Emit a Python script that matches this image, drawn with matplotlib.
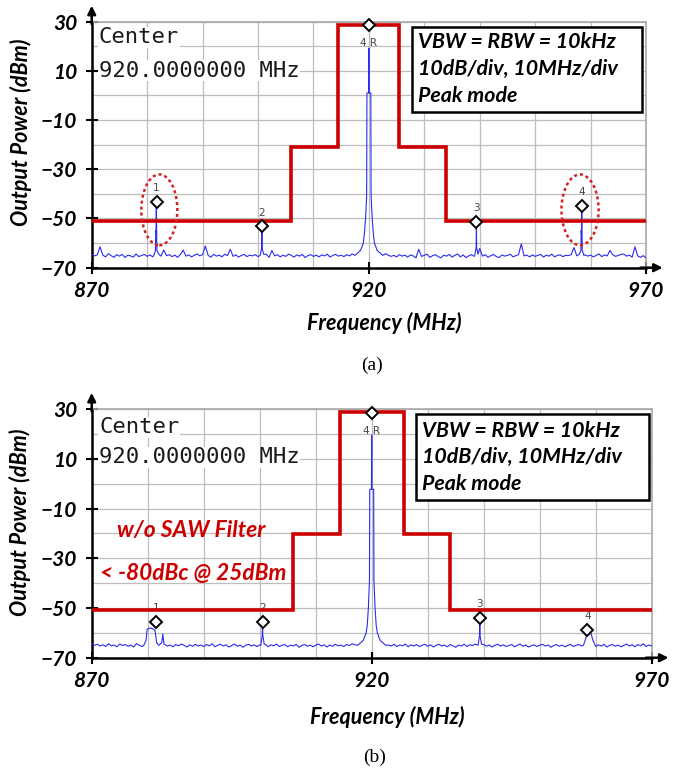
# ====================================================
# Spectrum analyzer screenshots: output spectrum with
# (a) and without (b) the SAW filter, with spectral mask
# ====================================================

import numpy as np
from matplotlib import pyplot as plt
from matplotlib.patches import Ellipse, Rectangle

plt.rcParams["font.family"] = ["Lato", "DejaVu Sans"]

# ====================================================
# Data
# ====================================================

# sweep frequency grid of the noise floor (MHz)
floor_freq = np.arange(870.0, 970.01, 0.5)

# noise floor, panel (a)  (dBm)
floor_a = [
    -64.5, -65.2, -64.8, -61.5, -64.9, -65.6, -64.3, -65.1, -65.8, -64.7,
    -65.3, -64.6, -65.9, -64.9, -65.2, -65.7, -64.4, -65.5, -65.0, -64.6,
    -65.4, -64.8, -65.6, -65.0, -64.5, -65.3, -62.8, -65.1, -64.7, -65.5,
    -64.9, -65.8, -64.6, -62.9, -65.3, -64.8, -65.6, -65.0, -64.4, -65.2,
    -64.7, -61.2, -65.0, -65.7, -64.6, -65.3, -64.9, -65.6, -64.5, -65.1,
    -62.5, -65.4, -64.8, -65.7, -65.0, -64.6, -65.5, -64.9, -65.2, -64.7,
    -65.5, -64.8, -65.3, -64.6, -65.8, -63.0, -65.2, -64.7, -65.6, -64.9,
    -65.4, -64.5, -65.0, -65.7, -64.8, -65.3, -64.6, -65.9, -65.1, -64.7,
    -65.4, -64.9, -65.6, -64.8, -65.2, -64.5, -65.7, -65.0, -64.6, -65.3,
    -64.9, -65.5, -64.7, -65.2, -64.4, -64.8, -64.0, -63.5, -62.5, -61.0,
    -60.0, -61.5, -62.8, -63.6, -64.2, -64.6, -64.3, -64.9, -65.4, -65.0,
    -65.6, -64.7, -65.3, -64.9, -65.7, -64.8, -65.2, -66.0, -62.5, -65.4,
    -65.0, -64.5, -65.8, -65.1, -64.7, -65.5, -66.0, -64.9, -65.3, -64.6,
    -65.7, -65.0, -64.4, -65.6, -64.8, -65.9, -65.2, -64.7, -65.4, -64.9,
    -62.2, -65.3, -64.7, -65.8, -65.1, -64.6, -65.5, -65.9, -64.8, -65.3,
    -65.0, -64.5, -65.6, -65.1, -64.7, -60.3, -65.2, -64.9, -65.6, -64.8,
    -65.4, -65.0, -64.6, -65.7, -64.9, -65.3, -64.5, -65.6, -65.0, -64.8,
    -65.5, -65.0, -65.1, -64.7, -61.8, -65.2, -64.6, -65.4, -64.8, -65.3,
    -64.9, -65.6, -65.0, -64.4, -65.5, -64.8, -65.2, -63.0, -64.7, -65.4,
    -65.0, -64.6, -64.5, -65.3, -64.9, -65.7, -61.5, -65.2, -65.8, -65.1,
    -66.0,
]

# noise floor, panel (b)  (dBm)
floor_b = [
    -64.2, -65.0, -64.6, -65.3, -64.8, -65.5, -64.4, -65.2, -64.9, -65.6,
    -64.5, -65.1, -64.7, -65.4, -64.9, -65.7, -64.3, -65.0, -65.5, -64.8,
    -65.2, -64.6, -65.4, -64.9, -65.8, -65.1, -64.6, -65.3, -64.9, -65.6,
    -64.7, -65.2, -64.5, -65.0, -65.7, -64.8, -65.4, -64.6, -65.3, -64.9,
    -65.5, -64.7, -65.2, -64.4, -65.6, -65.0, -64.6, -65.3, -64.8, -65.7,
    -65.1, -64.5, -65.4, -64.9, -65.8, -65.0, -64.6, -65.3, -64.8, -65.5,
    -64.9, -65.3, -64.6, -65.6, -64.8, -65.2, -64.5, -65.5, -65.0, -64.7,
    -65.6, -64.9, -65.3, -64.6, -65.8, -65.1, -64.7, -65.4, -64.9, -65.6,
    -65.0, -64.5, -65.3, -64.8, -65.7, -64.9, -65.4, -64.6, -65.2, -64.9,
    -65.5, -64.7, -65.1, -64.4, -64.8, -64.2, -63.8, -63.2, -62.4, -61.0,
    -60.0, -61.4, -62.6, -63.4, -64.0, -64.5, -64.9, -65.3, -64.6, -65.5,
    -64.9, -65.2, -64.5, -65.6, -64.8, -65.3, -64.7, -65.5, -65.0, -64.6,
    -65.4, -64.8, -65.7, -65.0, -64.6, -65.3, -64.9, -65.6, -64.7, -65.2,
    -65.8, -64.9, -65.3, -64.6, -65.5, -64.8, -65.1, -64.5, -65.6, -65.0,
    -64.7, -65.4, -64.9, -65.7, -65.0, -64.6, -65.3, -64.8, -65.5, -65.1,
    -64.7, -65.6, -65.0, -64.5, -65.4, -64.9, -65.7, -65.2, -64.8, -65.5,
    -65.0, -64.6, -65.3, -64.9, -65.8, -65.1, -64.7, -65.4, -64.9, -65.6,
    -65.1, -64.6, -65.5, -65.0, -64.7, -65.3, -64.8, -65.6, -65.2, -64.9,
    -65.5, -64.8, -65.3, -64.6, -65.7, -65.0, -64.7, -65.4, -64.9, -65.6,
    -65.1, -64.5, -65.3, -64.8, -65.6, -64.7, -65.2, -64.4, -65.5, -64.9,
    -65.3,
]

# carrier and spurs (frequency MHz, level dBm), panel (a)
carrier_a_f = [917.5, 918.5, 919.0, 919.2, 919.4, 919.6, 919.65, 919.95, 920.0,
               920.05, 920.35, 920.4, 920.6, 920.8, 921.0, 921.5, 922.5]
carrier_a_lv = [-65.0, -63.0, -60.0, -56.0, -50.0, -41.0, 1.0, 1.0, 19.3,
                1.0, 1.0, -41.0, -50.0, -56.0, -60.0, -63.0, -65.0]
spur1_a_f = [881.2, 881.5, 881.55, 881.6, 881.65, 881.7, 881.75, 882.1]
spur1_a_lv = [-65.0, -63.0, -55.0, -56.0, -43.5, -55.0, -63.0, -64.5]
spur2_a_f = [900.4, 900.65, 900.7, 900.75, 901.0]
spur2_a_lv = [-65.0, -62.0, -53.5, -62.0, -64.5]
spur3_a_f = [939.1, 939.35, 939.4, 939.45, 939.7]
spur3_a_lv = [-65.0, -62.0, -52.5, -62.0, -64.5]
spur4_a_f = [958.0, 958.25, 958.3, 958.35, 958.4, 958.45, 958.5, 958.8]
spur4_a_lv = [-64.5, -63.0, -55.0, -56.0, -45.5, -55.0, -63.0, -65.0]

# carrier and spurs, panel (b)
carrier_b_f = [917.5, 918.5, 919.0, 919.2, 919.4, 919.6, 919.65, 919.95, 920.0,
               920.05, 920.35, 920.4, 920.6, 920.8, 921.0, 921.5, 922.5]
carrier_b_lv = [-65.0, -63.0, -60.0, -57.0, -50.0, -39.0, -2.3, -2.3, 19.5,
                -2.3, -2.3, -39.0, -50.0, -57.0, -60.0, -63.0, -65.0]
spur1_b_f = [879.3, 879.7, 879.9, 880.5, 881.0, 881.3, 881.6, 882.0, 882.5, 882.7, 882.9]
spur1_b_lv = [-65.0, -63.0, -58.5, -58.0, -58.5, -59.0, -64.0, -65.0, -64.0, -60.5, -64.5]
spur2_b_f = [900.2, 900.45, 900.5, 900.55, 900.8]
spur2_b_lv = [-65.0, -61.0, -56.0, -61.0, -64.5]
spur3_b_f = [939.0, 939.25, 939.3, 939.35, 939.6]
spur3_b_lv = [-65.0, -61.0, -54.8, -61.0, -64.5]
spur4_b_f = [957.8, 958.2, 958.4, 958.8, 959.2, 959.5, 959.9]
spur4_b_lv = [-65.0, -62.5, -60.5, -60.0, -60.5, -63.0, -65.0]

# spectral mask (step edges in MHz, levels in dBm)
mask_a_edges = [870.0, 906.0, 914.5, 925.5, 934.0, 970.0]
mask_a_levels = [-51.2, -21.0, 28.7, -21.0, -51.2]
mask_b_edges = [870.0, 906.0, 914.4, 925.8, 934.0, 970.0]
mask_b_levels = [-50.8, -20.2, 28.9, -20.2, -50.8]

# markers
marker_names = ["1", "2", "4R", "3", "4"]
marker_a_f = [881.7, 900.7, 920.0, 939.4, 958.4]
marker_a_lv = [-43.2, -53.2, 28.7, -51.4, -44.9]
marker_b_f = [881.5, 900.5, 920.0, 939.3, 958.5]
marker_b_lv = [-55.5, -55.5, 28.3, -53.9, -58.7]

# dotted ellipses in panel (a): centre f, centre level, width MHz, height dB
ellipse_f = [882.2, 958.1]
ellipse_lv = [-46.5, -46.5]
ellipse_w = [6.5, 6.7]
ellipse_h = [28.8, 28.8]

settings_lines = ["VBW = RBW = 10kHz", "10dB/div, 10MHz/div", "Peak mode"]

BLUE = "#2b2bf0"
RED = "#cc0000"


# ====================================================
# Helpers
# ====================================================

def build_trace(floor_lv, features):
    f = np.asarray(floor_freq)
    lv = np.asarray(floor_lv, dtype=float)
    keep = np.ones(f.size, dtype=bool)
    for ff, _ in features:
        keep &= ~((f >= min(ff)) & (f <= max(ff)))
    all_f = np.concatenate([f[keep]] + [np.asarray(ff) for ff, _ in features])
    all_lv = np.concatenate([lv[keep]] + [np.asarray(ll) for _, ll in features])
    order = np.argsort(all_f, kind="stable")
    return all_f[order], all_lv[order]


def draw_panel(ax, trace_f, trace_lv, edges, levels, mk_f, mk_lv,
               center_y, box, lines_y, label_y, xlabel_y):

    ax.set_xlim(870, 970)
    ax.set_ylim(-70, 30)

    # grid every 10 MHz / 10 dB
    ax.set_xticks([870, 920, 970])
    ax.set_xticks(np.arange(870, 971, 10), minor=True)
    ax.set_yticks([-70, -50, -30, -10, 10, 30])
    ax.set_yticks(np.arange(-70, 31, 10), minor=True)
    ax.grid(which="both", color="#bdbdbd", lw=0.9, zorder=0)
    ax.set_axisbelow(True)
    ax.tick_params(which="major", direction="inout", length=9, width=1.5, pad=5)
    ax.tick_params(axis="y", which="major", pad=6)
    ax.tick_params(which="minor", length=0)
    for lbl in ax.get_xticklabels() + ax.get_yticklabels():
        lbl.set_fontweight("bold")
        lbl.set_fontstyle("italic")
        lbl.set_fontsize(15)

    for s in ["left", "bottom"]:
        ax.spines[s].set_linewidth(1.8)
        ax.spines[s].set_color("black")
    for s in ["top", "right"]:
        ax.spines[s].set_linewidth(1.2)
        ax.spines[s].set_color("#a8a8a8")

    # axis arrows
    ax.annotate("", xy=(0, 1.065), xytext=(0, 0.99), xycoords="axes fraction",
                arrowprops=dict(arrowstyle="-|>", color="black", lw=1.8,
                                mutation_scale=12, shrinkA=0, shrinkB=0))
    ax.annotate("", xy=(1.03, 0), xytext=(0.99, 0), xycoords="axes fraction",
                arrowprops=dict(arrowstyle="-|>", color="black", lw=1.8,
                                mutation_scale=12, shrinkA=0, shrinkB=0))

    # measured trace
    ax.plot(trace_f, trace_lv, color=BLUE, lw=0.8, zorder=3)

    # marker labels sit under the mask line
    for name, f, lv in zip(marker_names, mk_f, mk_lv):
        if name == "4R":
            ax.text(f, lv - 7.2, "4 R", ha="center", va="center",
                    fontsize=7.5, color="#444444", family="DejaVu Sans", zorder=2)
        else:
            ax.text(f, lv + 5.6, name, ha="center", va="center",
                    fontsize=7.5, color="#444444", family="DejaVu Sans", zorder=2)

    # spectral mask
    ax.stairs(levels, edges, baseline=None, color=RED, lw=2.6, zorder=4)

    # markers
    ax.plot(mk_f, mk_lv, "D", ms=6.5, mfc="white", mec="black", mew=1.4,
            zorder=5, clip_on=False)

    # centre frequency readout
    ax.text(871.3, center_y[0], "Center", family="DejaVu Sans Mono", fontsize=16,
            color="#1a1a1a", va="baseline",
            bbox=dict(facecolor="white", edgecolor="none", pad=0.5), zorder=6)
    ax.text(871.3, center_y[1], "920.0000000 MHz", family="DejaVu Sans Mono",
            fontsize=16, color="#1a1a1a", va="baseline",
            bbox=dict(facecolor="white", edgecolor="none", pad=0.5), zorder=6)

    # settings box
    x0, x1, y0, y1 = box
    ax.add_patch(Rectangle((x0, y0), x1 - x0, y1 - y0, facecolor="white",
                           edgecolor="black", lw=1.8, zorder=6))
    for line, y in zip(settings_lines, lines_y):
        ax.text(x0 + 1.1, y, line, fontsize=15.4, fontweight="bold",
                fontstyle="italic", va="baseline", zorder=7)

    # axis titles
    ax.text(-0.128, label_y, "Output Power (dBm)", transform=ax.transAxes,
            rotation=90, ha="center", va="center", fontsize=15.5,
            fontweight="bold", fontstyle="italic")
    ax.text(0.527, xlabel_y, "Frequency (MHz)", transform=ax.transAxes,
            ha="center", va="center", fontsize=15.5,
            fontweight="bold", fontstyle="italic")


# ====================================================
# Main function
# ====================================================

def main() -> None:

    fig = plt.figure(figsize=(6.85, 7.69), dpi=100)
    ax_a = fig.add_axes([0.1339, 0.6519, 0.8092, 0.3199])
    ax_b = fig.add_axes([0.1339, 0.1447, 0.8175, 0.3234])

    # ------------------------------------------------
    # (a) with SAW filter
    # ------------------------------------------------
    feats_a = [(carrier_a_f, carrier_a_lv), (spur1_a_f, spur1_a_lv),
               (spur2_a_f, spur2_a_lv), (spur3_a_f, spur3_a_lv),
               (spur4_a_f, spur4_a_lv)]
    tf, tl = build_trace(floor_a, feats_a)
    draw_panel(ax_a, tf, tl, mask_a_edges, mask_a_levels, marker_a_f, marker_a_lv,
               center_y=(21.2, 7.6), box=(927.7, 969.2, -6.6, 27.7),
               lines_y=(19.2, 8.3, -2.5), label_y=0.55, xlabel_y=-0.225)

    for cf, cl, w, h in zip(ellipse_f, ellipse_lv, ellipse_w, ellipse_h):
        ax_a.add_patch(Ellipse((cf, cl), w, h, fill=False, edgecolor="#d42020",
                               lw=1.8, linestyle=(0, (1.2, 1.2)), zorder=6))

    # ------------------------------------------------
    # (b) without SAW filter
    # ------------------------------------------------
    feats_b = [(carrier_b_f, carrier_b_lv), (spur1_b_f, spur1_b_lv),
               (spur2_b_f, spur2_b_lv), (spur3_b_f, spur3_b_lv),
               (spur4_b_f, spur4_b_lv)]
    tf, tl = build_trace(floor_b, feats_b)
    draw_panel(ax_b, tf, tl, mask_b_edges, mask_b_levels, marker_b_f, marker_b_lv,
               center_y=(20.2, 8.2), box=(927.9, 969.6, -6.6, 28.1),
               lines_y=(18.9, 8.2, -2.6), label_y=0.544, xlabel_y=-0.237)

    ax_b.text(874.6, -21.4, "w/o SAW Filter", color=RED, fontsize=16.5,
              fontweight="bold", fontstyle="italic", va="baseline", zorder=6)
    ax_b.text(871.4, -38.8, "< -80dBc @ 25dBm", color=RED, fontsize=16.3,
              fontweight="bold", fontstyle="italic", va="baseline", zorder=6)

    # captions
    fig.text(372 / 685, 1 - 365 / 769, "(a)", family="Liberation Serif",
             fontsize=14, ha="center", va="center")
    fig.text(375 / 685, 1 - 757 / 769, "(b)", family="Liberation Serif",
             fontsize=14, ha="center", va="center")

    fig.savefig("out.png", dpi=100)
    plt.close(fig)


# ====================================================
# Execute main function
# ====================================================

if __name__ == "__main__":
    main()
